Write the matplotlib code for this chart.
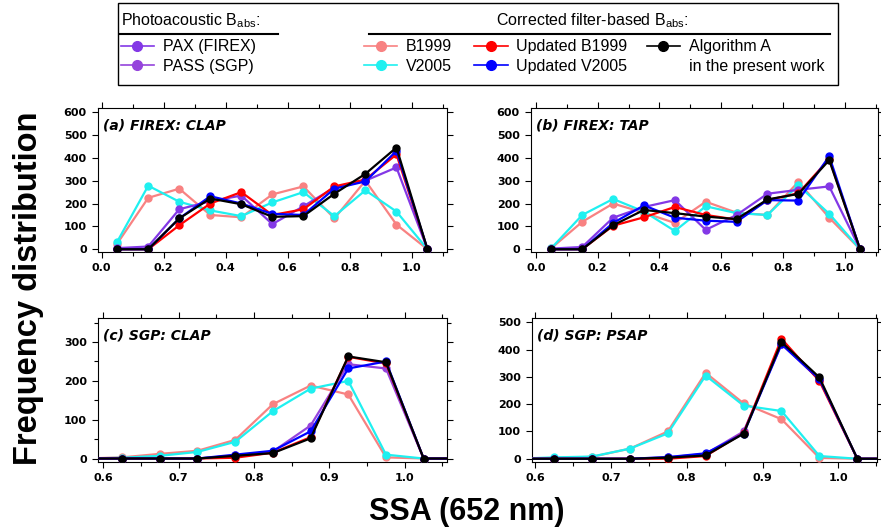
import numpy as np
import matplotlib.pyplot as plt
from matplotlib.lines import Line2D
from matplotlib.patches import Rectangle
from matplotlib.ticker import MultipleLocator

# SSA bin centres
ssa_firex = [0.05, 0.15, 0.25, 0.35, 0.45, 0.55, 0.65, 0.75, 0.85, 0.95, 1.05]
ssa_sgp = [0.575, 0.625, 0.675, 0.725, 0.775, 0.825, 0.875, 0.925, 0.975, 1.025, 1.075]

# (a) FIREX: CLAP
a_pax = [5, 12, 175, 210, 235, 110, 188, 270, 300, 358, 0]
a_b1999 = [25, 225, 265, 150, 140, 240, 275, 135, 300, 108, 0]
a_v2005 = [33, 278, 208, 170, 145, 205, 250, 145, 258, 165, 0]
a_upd_b1999 = [0, 0, 105, 200, 250, 150, 175, 275, 305, 415, 0]
a_upd_v2005 = [0, 0, 135, 232, 200, 155, 150, 265, 297, 430, 0]
a_alg = [0, 0, 135, 222, 197, 142, 145, 243, 330, 445, 0]

# (b) FIREX: TAP
b_pax = [3, 10, 138, 185, 215, 85, 150, 243, 260, 275, 0]
b_b1999 = [5, 120, 200, 160, 115, 208, 160, 150, 295, 138, 0]
b_v2005 = [5, 150, 220, 165, 80, 188, 158, 150, 280, 155, 0]
b_upd_b1999 = [0, 0, 103, 140, 185, 150, 130, 215, 245, 395, 0]
b_upd_v2005 = [0, 0, 115, 192, 138, 125, 120, 215, 213, 407, 0]
b_alg = [0, 0, 105, 172, 158, 143, 132, 218, 242, 390, 0]

# (c) SGP: CLAP
c_pass = [0, 0, 0, 0, 8, 18, 85, 243, 232, 0, 0]
c_b1999 = [0, 3, 12, 20, 48, 140, 188, 165, 3, 0, 0]
c_v2005 = [0, 2, 7, 17, 43, 122, 180, 200, 10, 0, 0]
c_upd_b1999 = [0, 0, 0, 0, 2, 15, 55, 262, 245, 0, 0]
c_upd_v2005 = [0, 0, 0, 0, 10, 20, 70, 232, 250, 0, 0]
c_alg = [0, 0, 0, 0, 7, 14, 52, 263, 248, 0, 0]

# (d) SGP: PSAP
d_pass = [0, 0, 0, 0, 5, 18, 100, 420, 290, 0, 0]
d_b1999 = [0, 3, 7, 37, 100, 315, 203, 145, 3, 0, 0]
d_v2005 = [0, 5, 8, 37, 93, 305, 195, 175, 10, 0, 0]
d_upd_b1999 = [0, 0, 0, 0, 0, 10, 95, 440, 285, 0, 0]
d_upd_v2005 = [0, 0, 0, 0, 6, 20, 92, 420, 292, 0, 0]
d_alg = [0, 0, 0, 0, 4, 12, 92, 428, 298, 0, 0]

c_pax = '#8338e6'
c_pass_col = '#9544dc'
c_pink = '#f88282'
c_cyan = '#1ff0f0'
c_red = '#ff0000'
c_blue = '#0000ff'
c_black = '#000000'

plt.rcParams['font.family'] = 'DejaVu Sans'

fig = plt.figure(figsize=(8.81, 5.31), dpi=100)

panels = [
    ([0.1112, 0.5254, 0.3962, 0.2712], ssa_firex,
     [a_b1999, a_v2005, a_pax, a_upd_b1999, a_upd_v2005, a_alg], c_pax,
     '(a) FIREX: CLAP', (-0.012, 1.113), (-12, 618)),
    ([0.6027, 0.5254, 0.3939, 0.2712], ssa_firex,
     [b_b1999, b_v2005, b_pax, b_upd_b1999, b_upd_v2005, b_alg], c_pax,
     '(b) FIREX: TAP', (-0.016, 1.108), (-12, 618)),
    ([0.1112, 0.1299, 0.3962, 0.2712], ssa_sgp,
     [c_b1999, c_v2005, c_pass, c_upd_b1999, c_upd_v2005, c_alg], c_pass_col,
     '(c) SGP: CLAP', (0.593, 1.056), (-9, 362)),
    ([0.6039, 0.1299, 0.3916, 0.2712], ssa_sgp,
     [d_b1999, d_v2005, d_pass, d_upd_b1999, d_upd_v2005, d_alg], c_pass_col,
     '(d) SGP: PSAP', (0.596, 1.051), (-12, 516)),
]

for i, (pos, x, series, purple, title, xlim, ylim) in enumerate(panels):
    ax = fig.add_axes(pos)
    colors = [c_pink, c_cyan, purple, c_red, c_blue, c_black]
    for y, col in zip(series, colors):
        ax.plot(x, y, '-o', color=col, lw=1.6, ms=5, zorder=3)
    ax.set_xlim(*xlim)
    ax.set_ylim(*ylim)
    if i < 2:
        ax.xaxis.set_major_locator(MultipleLocator(0.2))
        ax.xaxis.set_minor_locator(MultipleLocator(0.1))
        ax.yaxis.set_major_locator(MultipleLocator(100))
    else:
        ax.xaxis.set_major_locator(MultipleLocator(0.1))
        ax.xaxis.set_minor_locator(MultipleLocator(0.05))
        ax.yaxis.set_major_locator(MultipleLocator(100))
        if i == 2:
            ax.yaxis.set_minor_locator(MultipleLocator(50))
    ax.tick_params(which='both', direction='out', top=True, right=True,
                   labeltop=False, labelright=False, width=0.8)
    ax.tick_params(which='major', length=4.5, labelsize=8)
    ax.tick_params(which='minor', length=3)
    for lab in ax.get_xticklabels() + ax.get_yticklabels():
        lab.set_fontweight('bold')
    for sp in ax.spines.values():
        sp.set_linewidth(0.8)
    ax.text(0.015, 0.93, title, transform=ax.transAxes, fontsize=10,
            fontweight='bold', fontstyle='italic', va='top', ha='left')

fig.text(0.032, 0.457, 'Frequency distribution', rotation=90, ha='center',
         va='center', fontsize=23.5, fontweight='bold', family='Liberation Sans')
fig.text(0.530, 0.02, 'SSA (652 nm)', ha='center', va='baseline',
         fontsize=22, fontweight='bold', family='Liberation Sans')

# legend box
leg_font = 'Liberation Sans'
fig.patches.append(Rectangle((0.134, 0.840), 0.817, 0.154, transform=fig.transFigure,
                             fill=False, edgecolor='black', lw=1.0))
fig.text(0.137, 0.962, r'Photoacoustic B$_{\mathregular{abs}}$:', fontsize=11.5,
         va='center', ha='left', family=leg_font)
fig.text(0.672, 0.962, r'Corrected filter-based B$_{\mathregular{abs}}$:', fontsize=11.5,
         va='center', ha='center', family=leg_font)
fig.lines.append(Line2D([0.136, 0.316], [0.936, 0.936], transform=fig.transFigure,
                        color='black', lw=1.5))
fig.lines.append(Line2D([0.419, 0.942], [0.936, 0.936], transform=fig.transFigure,
                        color='black', lw=1.5))


def handle(col):
    return Line2D([], [], color=col, marker='o', lw=1.2, ms=7)


leg_kw = dict(loc='upper left', frameon=False, borderpad=0, borderaxespad=0,
              handlelength=2.1, handletextpad=0.55, labelspacing=0.28,
              prop={'family': leg_font, 'size': 11.5})
fig.legend([handle(c_pax), handle(c_pass_col)], ['PAX (FIREX)', 'PASS (SGP)'],
           bbox_to_anchor=(0.137, 0.926), **leg_kw)
fig.legend([handle(c_pink), handle(c_cyan)], ['B1999', 'V2005'],
           bbox_to_anchor=(0.413, 0.926), **leg_kw)
fig.legend([handle(c_red), handle(c_blue)], ['Updated B1999', 'Updated V2005'],
           bbox_to_anchor=(0.538, 0.926), **leg_kw)
fig.legend([handle(c_black), Line2D([], [], linestyle='none')],
           ['Algorithm A', 'in the present work'],
           bbox_to_anchor=(0.734, 0.926), **leg_kw)

fig.savefig('out.png', dpi=100)
